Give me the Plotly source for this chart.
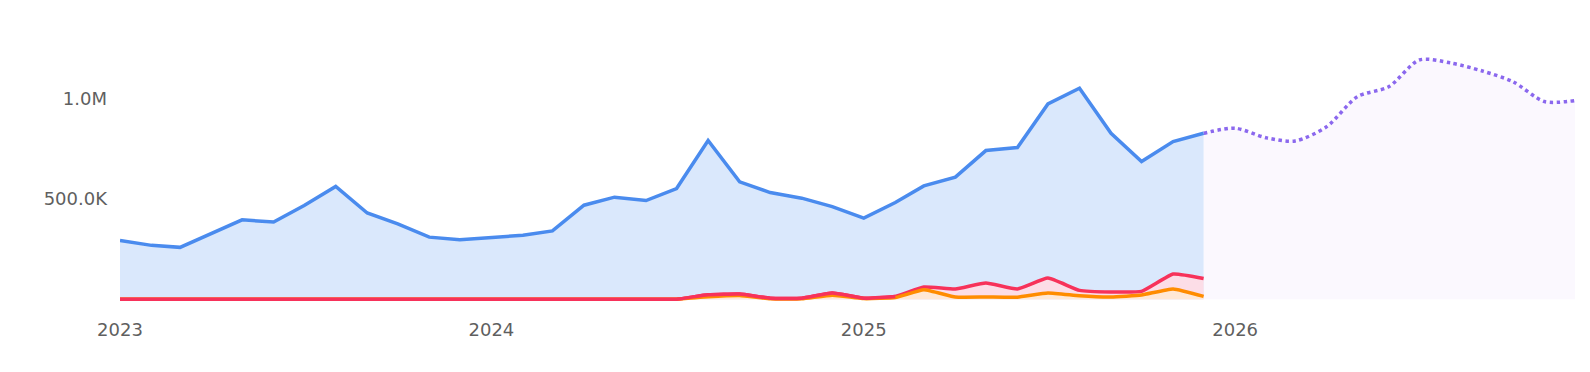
import plotly.graph_objects as go
import pandas as pd

months = pd.date_range("2023-01-01", "2025-12-01", freq="MS").strftime("%Y-%m-%d").tolist()
forecast_months = pd.date_range("2025-12-01", "2026-12-01", freq="MS").strftime("%Y-%m-%d").tolist()

blue = [292000, 268000, 258000, 327000, 395000, 384000, 466000, 561000, 429000, 375000, 309000, 296000,
        305000, 318000, 340000, 468000, 508000, 491000, 551000, 790000, 584000, 531000, 503000, 461000,
        404000, 481000, 564000, 608000, 740000, 755000, 972000, 1050000, 826000, 685000, 785000, 826000]

red = [0, 0, 0, 0, 0, 0, 0, 0, 0, 0, 0, 0,
       0, 0, 0, 0, 0, 0, 0, 22000, 26000, 5000, 5000, 31000,
       5000, 14000, 61000, 51000, 81000, 51000, 105000, 44000, 36000, 39000, 125000, 103000]

orange = [0, 0, 0, 0, 0, 0, 0, 0, 0, 0, 0, 0,
          0, 0, 0, 0, 0, 0, 0, 12000, 18000, 2000, 2000, 20000,
          3000, 8000, 47000, 11000, 11000, 10000, 31000, 17000, 11000, 21000, 51000, 14000]

forecast = [826000, 851000, 803000, 788000, 859000, 1008000, 1058000, 1191000, 1176000, 1136000, 1083000, 984000, 989000]

y_tickvals = [500000, 1000000]
y_ticktext = ["500.0K", "1.0M"]
x_tickvals = ["2023-01-01", "2024-01-01", "2025-01-01", "2026-01-01"]
x_ticktext = ["2023", "2024", "2025", "2026"]

fig = go.Figure()
fig.add_trace(go.Scatter(x=forecast_months, y=forecast, mode="lines", line=dict(color="#8B68EE", width=3.5, dash="dot", shape="spline", smoothing=0.8),
                         fill="tozeroy", fillcolor="#FBF8FE", hoverinfo="skip"))
fig.add_trace(go.Scatter(x=months, y=blue, mode="lines", line=dict(color="#4A8BEE", width=3.5),
                         fill="tozeroy", fillcolor="#DAE8FC"))
fig.add_trace(go.Scatter(x=months, y=red, mode="lines", line=dict(color="#F7325A", width=3.5, shape="spline", smoothing=0.4),
                         fill="tozeroy", fillcolor="rgba(255,220,228,0.9)"))
fig.add_trace(go.Scatter(x=months, y=orange, mode="lines", line=dict(color="#FF8C00", width=3.5, shape="spline", smoothing=0.4),
                         fill="tozeroy", fillcolor="rgba(255,235,210,0.8)"))
fig.add_trace(go.Scatter(x=months[:26], y=red[:26], mode="lines", line=dict(color="#F7325A", width=3.5, shape="spline", smoothing=0.4)))

fig.update_layout(
    width=1590, height=372,
    margin=dict(l=120, r=15, t=20, b=70),
    paper_bgcolor="white", plot_bgcolor="white",
    showlegend=False,
    font=dict(family="DejaVu Sans, sans-serif", size=18, color="#5f5f5f"),
)
fig.update_xaxes(range=["2023-01-01", "2026-12-01"], tickvals=x_tickvals, ticktext=x_ticktext,
                 showgrid=False, zeroline=False, showline=False, ticks="", ticklabelstandoff=15,
                 tickfont=dict(family="DejaVu Sans, sans-serif", size=18, color="#5f5f5f"))
fig.update_yaxes(range=[-14000, 1390000], tickvals=y_tickvals, ticktext=y_ticktext,
                 showgrid=False, zeroline=False, showline=False, ticks="", ticklabelstandoff=12,
                 tickfont=dict(family="DejaVu Sans, sans-serif", size=18, color="#5f5f5f"))

fig.write_html("out.html")
